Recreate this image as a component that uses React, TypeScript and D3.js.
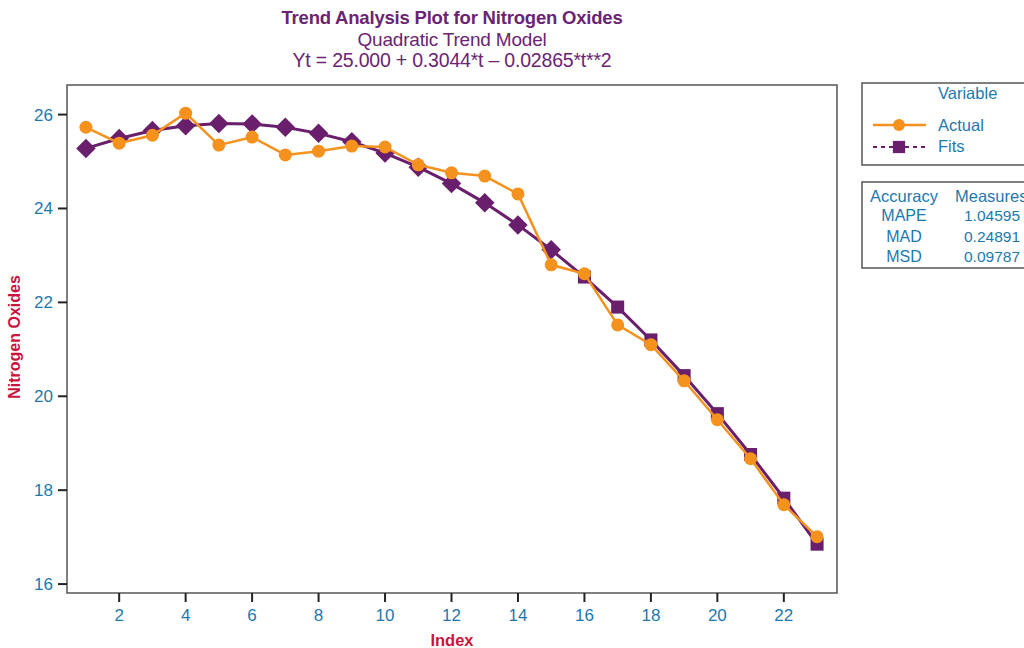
import React from "react";
import * as d3 from "d3";

const indexValues = [1,2,3,4,5,6,7,8,9,10,11,12,13,14,15,16,17,18,19,20,21,22,23];
const actualValues = [25.73,25.39,25.56,26.03,25.35,25.52,25.14,25.22,25.33,25.31,24.93,24.76,24.69,24.31,22.80,22.61,21.52,21.10,20.33,19.50,18.67,17.69,17.01];
const fitsValues = [25.28,25.49,25.66,25.76,25.81,25.80,25.73,25.60,25.42,25.18,24.88,24.53,24.12,23.65,23.12,22.54,21.90,21.20,20.44,19.63,18.76,17.83,16.85];
const xTicks = [2,4,6,8,10,12,14,16,18,20,22];
const yTicks = [16,18,20,22,24,26];
const titleLines = ["Trend Analysis Plot for Nitrogen Oxides", "Quadratic Trend Model", "Yt = 25.000 + 0.3044*t \u2013 0.02865*t**2"];
const accuracyNames = ["MAPE","MAD","MSD"];
const accuracyValues = ["1.04595","0.24891","0.09787"];

const ORANGE = "#F5921E";
const PURPLE = "#6A1F6D";
const BLUE = "#1E78AD";
const RED = "#C8153F";
const TITLE = "#6B2473";
const FRAME = "#555555";
const FONT = "'Liberation Sans', Arial, sans-serif";
const NARROW = "'Liberation Sans Narrow', 'Liberation Sans', Arial, sans-serif";

export default function App() {
  const L = 67, R = 837, T = 85, B = 593;
  const x = d3.scaleLinear().domain([0.43, 23.6]).range([L, R]);
  const y = d3.scaleLinear().domain([15.81, 26.63]).range([B, T]);
  const line = d3.line<number>().x((_, i) => x(indexValues[i])).y((d) => y(d));
  const sq = d3.symbol().type(d3.symbolSquare).size(170)();
  const dia = d3.symbol().type(d3.symbolSquare).size(190)();
  const legSq = d3.symbol().type(d3.symbolSquare).size(150)();

  return (
    <svg width={1024} height={648} style={{ position: "absolute", left: 0, top: 0, background: "#fff" }}>
      <rect x={0} y={0} width={1024} height={648} fill="#fff" />
      <text x={452} y={24} textAnchor="middle" fontFamily={FONT} fontWeight="bold" fontSize={18.5} fill={TITLE} letterSpacing={-0.2}>{titleLines[0]}</text>
      <text x={452} y={46} textAnchor="middle" fontFamily={FONT} fontSize={19} fill={TITLE} letterSpacing={-0.2}>{titleLines[1]}</text>
      <text x={452} y={67} textAnchor="middle" fontFamily={FONT} fontSize={19.5} fill={TITLE} letterSpacing={-0.2}>{titleLines[2]}</text>

      <rect x={L} y={T} width={R - L} height={B - T} fill="none" stroke={FRAME} strokeWidth={1.5} />

      {yTicks.map((t) => (
        <g key={"y" + t}>
          <line x1={L - 9} x2={L} y1={y(t)} y2={y(t)} stroke="#222" strokeWidth={2} />
          <text x={L - 14} y={y(t) + 6} textAnchor="end" fontFamily={NARROW} fontSize={17} fill={BLUE}>{t}</text>
        </g>
      ))}
      {xTicks.map((t) => (
        <g key={"x" + t}>
          <line x1={x(t)} x2={x(t)} y1={B} y2={B + 9} stroke="#222" strokeWidth={2} />
          <text x={x(t)} y={B + 28} textAnchor="middle" fontFamily={NARROW} fontSize={17} fill={BLUE}>{t}</text>
        </g>
      ))}
      <text x={452} y={646} textAnchor="middle" fontFamily={NARROW} fontWeight="bold" fontSize={16.5} fill={RED}>Index</text>
      <text transform={`translate(20,${(T + B) / 2 - 2}) rotate(-90)`} textAnchor="middle" fontFamily={NARROW} fontWeight="bold" fontSize={16} fill={RED}>Nitrogen Oxides</text>

      <path d={line(fitsValues) || ""} fill="none" stroke={PURPLE} strokeWidth={3} />
      {fitsValues.map((v, i) => (
        <path key={"f" + i} d={(indexValues[i] <= 15 ? dia : sq) || ""} fill={PURPLE}
          transform={`translate(${x(indexValues[i])},${y(v)}) rotate(${indexValues[i] <= 15 ? 45 : 0})`} />
      ))}
      <path d={line(actualValues) || ""} fill="none" stroke={ORANGE} strokeWidth={2.5} />
      {actualValues.map((v, i) => (
        <circle key={"a" + i} cx={x(indexValues[i])} cy={y(v)} r={6.5} fill={ORANGE} />
      ))}

      <rect x={862} y={83} width={170} height={82} fill="none" stroke={FRAME} strokeWidth={1.5} />
      <text x={938} y={99} fontFamily={FONT} fontSize={16.5} fill={BLUE}>Variable</text>
      <line x1={873} x2={926} y1={125} y2={125} stroke={ORANGE} strokeWidth={2.5} />
      <circle cx={899} cy={125} r={6} fill={ORANGE} />
      <text x={938} y={131} fontFamily={FONT} fontSize={16.5} fill={BLUE}>Actual</text>
      <line x1={873} x2={926} y1={147} y2={147} stroke={PURPLE} strokeWidth={2} strokeDasharray="4,4" />
      <path d={legSq || ""} fill={PURPLE} transform="translate(899,147)" />
      <text x={938} y={152} fontFamily={FONT} fontSize={16.5} fill={BLUE}>Fits</text>

      <rect x={862} y={182} width={170} height={86} fill="none" stroke={FRAME} strokeWidth={1.5} />
      <text x={904} y={202} textAnchor="middle" fontFamily={FONT} fontSize={16.5} fill={BLUE}>Accuracy</text>
      <text x={955} y={202} fontFamily={FONT} fontSize={16.5} fill={BLUE}>Measures</text>
      {accuracyNames.map((n, i) => (
        <g key={n}>
          <text x={904} y={221 + i * 20.5} textAnchor="middle" fontFamily={FONT} fontSize={16} fill={BLUE}>{n}</text>
          <text x={992} y={221 + i * 20.5} textAnchor="middle" fontFamily={FONT} fontSize={15.5} fill={BLUE}>{accuracyValues[i]}</text>
        </g>
      ))}
    </svg>
  );
}
